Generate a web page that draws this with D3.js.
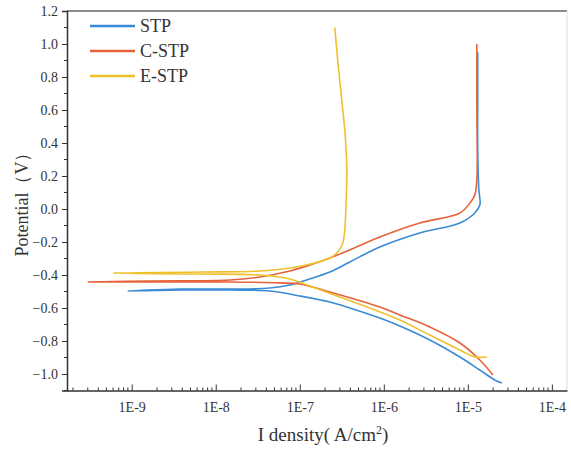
<!DOCTYPE html>
<html lang="en">
<head>
    <meta charset="UTF-8">
    <title>Tafel</title>
    <script src="https://d3js.org/d3.v7.min.js"></script>
    <style>
        body { margin: 0; background: #fff; }
        svg text { font-family: "Liberation Serif", "Times New Roman", serif; fill: #333; }
    </style>
</head>
<body>
    <div id="chart"></div>

    <script>
        // series names and colours
        const seriesNames = ["STP", "C-STP", "E-STP"];
        const seriesColors = ["#3a8ad6", "#e5633a", "#efc02e"];

        // current density (A/cm2), cathodic end -> anodic end
        const stpI = [2.54e-5, 2.09e-5, 1.39e-5, 8.04e-6, 3.53e-6, 1.55e-6, 8.95e-7, 3.94e-7, 2.28e-7, 1.0e-7,
                      4.4e-8, 1.47e-8, 3.72e-9, 9.0e-10, 3.72e-9, 1.47e-8, 4.4e-8, 7.6e-8, 1.21e-7, 2.28e-7,
                      3.94e-7, 8.95e-7, 2.68e-6, 8.04e-6, 1.21e-5, 1.39e-5, 1.35e-5, 1.31e-5, 1.31e-5, 1.31e-5];
        const stpV = [-1.055, -1.036, -0.976, -0.897, -0.794, -0.709, -0.661, -0.600, -0.564, -0.527,
                      -0.497, -0.491, -0.491, -0.497, -0.485, -0.485, -0.479, -0.461, -0.430, -0.382,
                      -0.321, -0.230, -0.145, -0.085, -0.024, 0.024, 0.12, 0.36, 0.66, 0.95];

        const cstpI = [1.99e-5, 1.39e-5, 8.04e-6, 3.53e-6, 1.55e-6, 8.95e-7, 2.28e-7, 1.0e-7, 5.8e-8, 1.47e-8,
                       1.64e-9, 3.0e-10, 1.64e-9, 1.47e-8, 3.34e-8, 7.6e-8, 1.32e-7, 2.28e-7, 3.94e-7, 8.95e-7,
                       2.68e-6, 8.04e-6, 1.06e-5, 1.21e-5, 1.28e-5, 1.28e-5, 1.28e-5];
        const cstpV = [-1.006, -0.915, -0.812, -0.715, -0.642, -0.594, -0.503, -0.455, -0.448, -0.442,
                       -0.442, -0.442, -0.436, -0.430, -0.412, -0.376, -0.339, -0.297, -0.248, -0.170,
                       -0.085, -0.024, 0.036, 0.085, 0.18, 0.66, 1.0];

        const estpI = [1.68e-5, 1.21e-5, 9.2e-6, 6.11e-6, 3.53e-6, 1.55e-6, 6.81e-7, 2.99e-7, 1.32e-7, 7.6e-8,
                       3.34e-8, 6.5e-9, 5.94e-10, 6.5e-9, 3.34e-8, 7.6e-8, 1.51e-7, 2.28e-7, 2.83e-7, 3.25e-7,
                       3.43e-7, 3.53e-7, 3.63e-7, 3.43e-7, 3.16e-7, 2.83e-7, 2.61e-7];
        const estpV = [-0.897, -0.897, -0.870, -0.824, -0.764, -0.673, -0.600, -0.533, -0.467, -0.424,
                       -0.400, -0.394, -0.388, -0.382, -0.376, -0.358, -0.327, -0.297, -0.261, -0.206,
                       -0.127, -0.006, 0.25, 0.48, 0.66, 0.90, 1.10];

        // tick labels
        const xTickValues = [1e-9, 1e-8, 1e-7, 1e-6, 1e-5, 1e-4];
        const xTickLabels = ["1E-9", "1E-8", "1E-7", "1E-6", "1E-5", "1E-4"];
        const yTickValues = [-1.0, -0.8, -0.6, -0.4, -0.2, 0.0, 0.2, 0.4, 0.6, 0.8, 1.0, 1.2];

        const W = 571, H = 450;
        const plotLeft = 67, plotRight = 567, plotTop = 11, plotBottom = 390.5;
        const serif = "Liberation Serif";

        const svg = d3.select("#chart")
            .append("svg")
            .attr("width", W)
            .attr("height", H);

        const x = d3.scaleLog()
            .domain([Math.pow(10, -9.77), Math.pow(10, -3.82)])
            .range([plotLeft, plotRight]);

        const y = d3.scaleLinear()
            .domain([-1.1, 1.2])
            .range([plotBottom, plotTop]);

        // frame: top and right
        svg.append("line")
            .attr("x1", plotLeft).attr("x2", plotRight)
            .attr("y1", plotTop).attr("y2", plotTop)
            .attr("stroke", "#666").attr("stroke-width", 1.5);
        svg.append("line")
            .attr("x1", plotRight).attr("x2", plotRight)
            .attr("y1", plotTop).attr("y2", plotBottom)
            .attr("stroke", "#ddd").attr("stroke-width", 1);

        // y axis, ticks outward
        const yAxis = svg.append("g")
            .attr("transform", `translate(${plotLeft},0)`)
            .call(d3.axisLeft(y)
                .tickValues(yTickValues)
                .tickFormat(d3.format(".1f"))
                .tickSize(5)
                .tickPadding(4))
            .attr("font-family", serif)
            .attr("font-size", 14);
        yAxis.select(".domain").attr("stroke", "#333").attr("stroke-width", 1.5);
        yAxis.selectAll(".tick line").attr("stroke", "#333");
        yAxis.selectAll("text").attr("fill", "#444");

        // y minor ticks
        const yMinor = d3.range(-11, 13).map(k => k / 10).filter(v => Math.round(v * 10) % 2 !== 0);
        svg.append("g")
            .selectAll("line")
            .data(yMinor)
            .enter()
            .append("line")
            .attr("x1", plotLeft - 3).attr("x2", plotLeft)
            .attr("y1", d => y(d)).attr("y2", d => y(d))
            .attr("stroke", "#333");

        // x axis, ticks inward
        const xAxis = svg.append("g")
            .attr("transform", `translate(0,${plotBottom})`)
            .call(d3.axisBottom(x)
                .tickValues(xTickValues)
                .tickFormat((d, i) => xTickLabels[i])
                .tickSizeInner(-6)
                .tickSizeOuter(0)
                .tickPadding(12))
            .attr("font-family", serif)
            .attr("font-size", 14);
        xAxis.select(".domain").attr("stroke", "#333").attr("stroke-width", 1.5);
        xAxis.selectAll(".tick line").attr("stroke", "#333");
        xAxis.selectAll("text").attr("fill", "#444");

        // x minor ticks (2..9 in each decade)
        const xMinor = [];
        for (let e = -10; e <= -4; e++) {
            for (let m = 2; m <= 9; m++) {
                const v = m * Math.pow(10, e);
                if (v > x.domain()[0] && v < x.domain()[1]) xMinor.push(v);
            }
        }
        svg.append("g")
            .selectAll("line")
            .data(xMinor)
            .enter()
            .append("line")
            .attr("x1", d => x(d)).attr("x2", d => x(d))
            .attr("y1", plotBottom).attr("y2", plotBottom - 3)
            .attr("stroke", "#333");

        // curves
        const series = [
            stpI.map((v, i) => [v, stpV[i]]),
            cstpI.map((v, i) => [v, cstpV[i]]),
            estpI.map((v, i) => [v, estpV[i]])
        ];

        const line = d3.line()
            .x(d => x(d[0]))
            .y(d => y(d[1]))
            .curve(d3.curveCatmullRom.alpha(0.5));

        svg.append("g")
            .selectAll("path")
            .data(series)
            .enter()
            .append("path")
            .attr("d", line)
            .attr("fill", "none")
            .attr("stroke", (d, i) => seriesColors[i])
            .attr("stroke-width", 1.6);

        // legend
        const legend = svg.append("g")
            .selectAll("g")
            .data(seriesNames)
            .enter()
            .append("g")
            .attr("transform", (d, i) => `translate(90,${26 + i * 25})`);
        legend.append("line")
            .attr("x1", 0).attr("x2", 45)
            .attr("stroke", (d, i) => seriesColors[i])
            .attr("stroke-width", 2.5);
        legend.append("text")
            .attr("x", 50)
            .attr("y", 6)
            .attr("font-size", 18)
            .text(d => d);

        // axis titles
        svg.append("text")
            .attr("transform", "translate(28,200) rotate(-90)")
            .attr("text-anchor", "middle")
            .attr("font-size", 18)
            .text("Potential（V）");

        const xt = svg.append("text")
            .attr("x", 323)
            .attr("y", 441)
            .attr("text-anchor", "middle")
            .attr("font-size", 19);
        xt.append("tspan").text("I density( A/cm");
        xt.append("tspan").attr("dy", -7).attr("font-size", 12).text("2");
        xt.append("tspan").attr("dy", 7).text(")");
    </script>
</body>
</html>
